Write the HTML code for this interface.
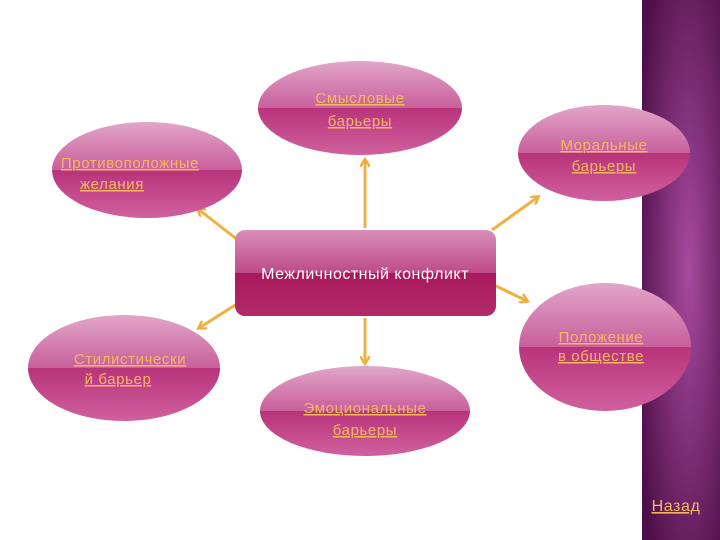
<!DOCTYPE html>
<html><head><meta charset="utf-8"><style>
body{margin:0;width:720px;height:540px;overflow:hidden;background:#fff;font-family:"Liberation Sans","DejaVu Sans",sans-serif}
</style></head><body>
<svg width="720" height="540" xmlns="http://www.w3.org/2000/svg" style="position:absolute;left:0;top:0">
<defs>
<linearGradient id="g" x1="0" y1="0" x2="0" y2="1">
<stop offset="0" stop-color="#e2a6c8"/><stop offset="0.5" stop-color="#c85f9c"/>
<stop offset="0.5" stop-color="#b8337a"/><stop offset="1" stop-color="#d0609e"/></linearGradient>
<linearGradient id="r" x1="0" y1="0" x2="0" y2="1">
<stop offset="0" stop-color="#d98fb8"/><stop offset="0.5" stop-color="#bd4a8a"/>
<stop offset="0.5" stop-color="#a8195c"/><stop offset="1" stop-color="#b22a6a"/></linearGradient>
<radialGradient id="p" cx="0.6" cy="0.5" r="0.7">
<stop offset="0" stop-color="#a64a9e"/><stop offset="1" stop-color="#4e0f48"/></radialGradient>
<marker id="a" markerWidth="10" markerHeight="10" refX="7" refY="5" orient="auto" markerUnits="userSpaceOnUse">
<path d="M0,0 L8,5 L0,10" fill="none" stroke="#f0b040" stroke-width="2.5"/></marker>
</defs>
<rect x="642" y="0" width="78" height="540" fill="url(#p)"/>
<g stroke="#f0b040" stroke-width="3" marker-end="url(#a)">
<line x1="365" y1="228" x2="365" y2="160"/>
<line x1="238" y1="240" x2="198" y2="209"/>
<line x1="492" y1="230" x2="538" y2="197"/>
<line x1="494" y1="285" x2="527" y2="301"/>
<line x1="240" y1="302" x2="199" y2="328"/>
<line x1="365" y1="318" x2="365" y2="363"/>
</g>
<g fill="url(#g)">
<ellipse cx="360" cy="108" rx="102" ry="47"/>
<ellipse cx="147" cy="170" rx="95" ry="48"/>
<ellipse cx="604" cy="153" rx="86" ry="48"/>
<ellipse cx="124" cy="368" rx="96" ry="53"/>
<ellipse cx="605" cy="347" rx="86" ry="64"/>
<ellipse cx="365" cy="411" rx="105" ry="45"/>
</g>
<rect x="235" y="230" width="261" height="86" rx="10" fill="url(#r)"/>
<g fill="#f7b860" font-size="15" letter-spacing="0.6" text-anchor="middle" text-decoration="underline">
<text x="360" y="103">Смысловые</text><text x="360" y="126">барьеры</text>
<text x="130" y="168">Противоположные</text><text x="112" y="189">желания</text>
<text x="604" y="150">Моральные</text><text x="604" y="171">барьеры</text>
<text x="130" y="364">Стилистически</text><text x="118" y="384">й барьер</text>
<text x="601" y="342">Положение</text><text x="601" y="361">в обществе</text>
<text x="365" y="413">Эмоциональные</text><text x="365" y="435">барьеры</text>
<text x="676" y="511" font-size="16">Назад</text>
</g>
<text x="365" y="279" fill="#fff" font-size="16" letter-spacing="0.5" text-anchor="middle">Межличностный конфликт</text>
</svg>
</body></html>
